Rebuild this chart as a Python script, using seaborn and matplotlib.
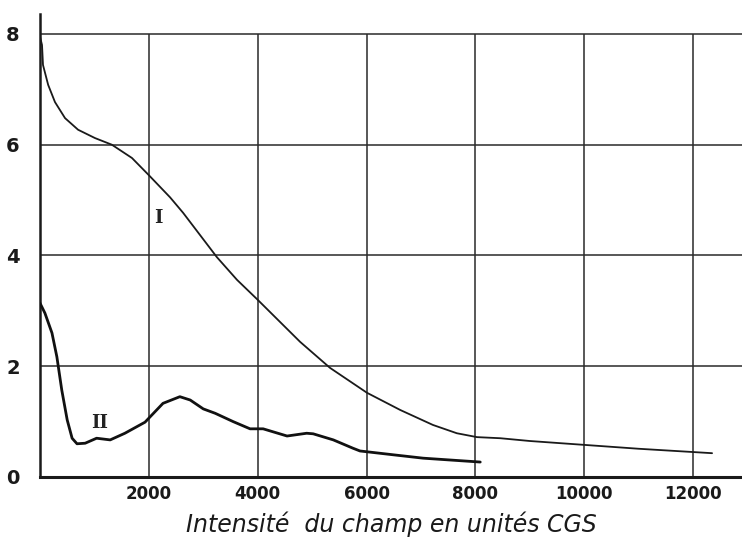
import matplotlib
matplotlib.use("Agg")
import matplotlib.pyplot as plt
import seaborn as sns
import pandas as pd

# Data
curve1_x = [0, 37, 55, 150, 275, 460, 700, 1010, 1320, 1690, 2000, 2390, 2630, 2940, 3250, 3620, 4000,
            4780, 5330, 6010, 6620, 7220, 7660, 8030, 8460, 9000, 10000, 11000, 12350]
curve1_y = [7.95, 7.8, 7.44, 7.08, 6.77, 6.48, 6.27, 6.12, 6.0, 5.76, 5.45, 5.05, 4.77, 4.37, 3.97, 3.56, 3.2,
            2.44, 1.97, 1.52, 1.21, 0.94, 0.79, 0.72, 0.70, 0.65, 0.58, 0.51, 0.43]

curve2_x = [0, 90, 220, 310, 400, 500, 590, 680, 830, 1040, 1290, 1560, 1930, 2260, 2570, 2760,
            3000, 3220, 3550, 3860, 4100, 4540, 4900, 5020, 5390, 5750, 5880, 6500, 7040, 8090]
curve2_y = [3.14, 2.96, 2.6, 2.17, 1.57, 1.03, 0.70, 0.60, 0.61, 0.70, 0.67, 0.79, 0.99, 1.33, 1.45, 1.39,
            1.23, 1.15, 1.0, 0.87, 0.87, 0.74, 0.79, 0.78, 0.67, 0.52, 0.47, 0.40, 0.34, 0.27]

x_ticks = [2000, 4000, 6000, 8000, 10000, 12000]
x_tick_labels = ["2000", "4000", "6000", "8000", "10000", "12000"]
y_ticks = [0, 2, 4, 6, 8]
y_tick_labels = ["0", "2", "4", "6", "8"]
curve_labels = ["I", "II"]
label_pos_x = [2170, 1100]
label_pos_y = [4.68, 0.97]
x_label = "Intensité  du champ en unités CGS"

sns.set_style("white")
plt.rcParams['font.family'] = ['DejaVu Sans']

fig = plt.figure(figsize=(7.42, 5.49), dpi=100)
ax = fig.add_axes([40/742, 1 - 477/549, 1 - 40/742, (477 - 14)/549])

df1 = pd.DataFrame({"x": curve1_x, "y": curve1_y})
df2 = pd.DataFrame({"x": curve2_x, "y": curve2_y})

grid_color = "#2a2a2a"
for yv in y_ticks[1:]:
    ax.axhline(yv, color=grid_color, lw=1.1, zorder=1)
ax.vlines(x_ticks, 0, 8, color=grid_color, lw=1.1, zorder=1)

sns.lineplot(data=df1, x="x", y="y", ax=ax, color="#1a1a1a", lw=1.3, zorder=3)
sns.lineplot(data=df2, x="x", y="y", ax=ax, color="#111111", lw=2.0, zorder=3)
for line in ax.get_lines():
    line.set_solid_joinstyle("round")

for t, lx, ly in zip(curve_labels, label_pos_x, label_pos_y):
    ax.text(lx, ly, t, fontsize=13, fontweight="bold", family="DejaVu Serif",
            ha="center", va="center", color="#222222")

ax.set_xlim(0, 12900)
ax.set_ylim(0, 8.36)

ax.set_xticks(x_ticks)
ax.set_xticklabels(x_tick_labels)
ax.set_yticks(y_ticks)
ax.set_yticklabels(y_tick_labels)
ax.tick_params(axis="x", length=0, pad=6, labelsize=12, colors="#1a1a1a")
ax.tick_params(axis="y", length=5, width=1.5, direction="inout", pad=12, labelsize=14, colors="#1a1a1a")
for lab in ax.get_xticklabels() + ax.get_yticklabels():
    lab.set_fontweight("bold")

ax.set_xlabel(x_label, fontsize=17, style="italic", labelpad=6, color="#1a1a1a")
ax.set_ylabel("")

for side in ["top", "right"]:
    ax.spines[side].set_visible(False)
ax.spines["left"].set_linewidth(1.8)
ax.spines["left"].set_color("#1a1a1a")
ax.spines["bottom"].set_linewidth(2.2)
ax.spines["bottom"].set_color("#1a1a1a")

fig.savefig("out.png", dpi=100)
